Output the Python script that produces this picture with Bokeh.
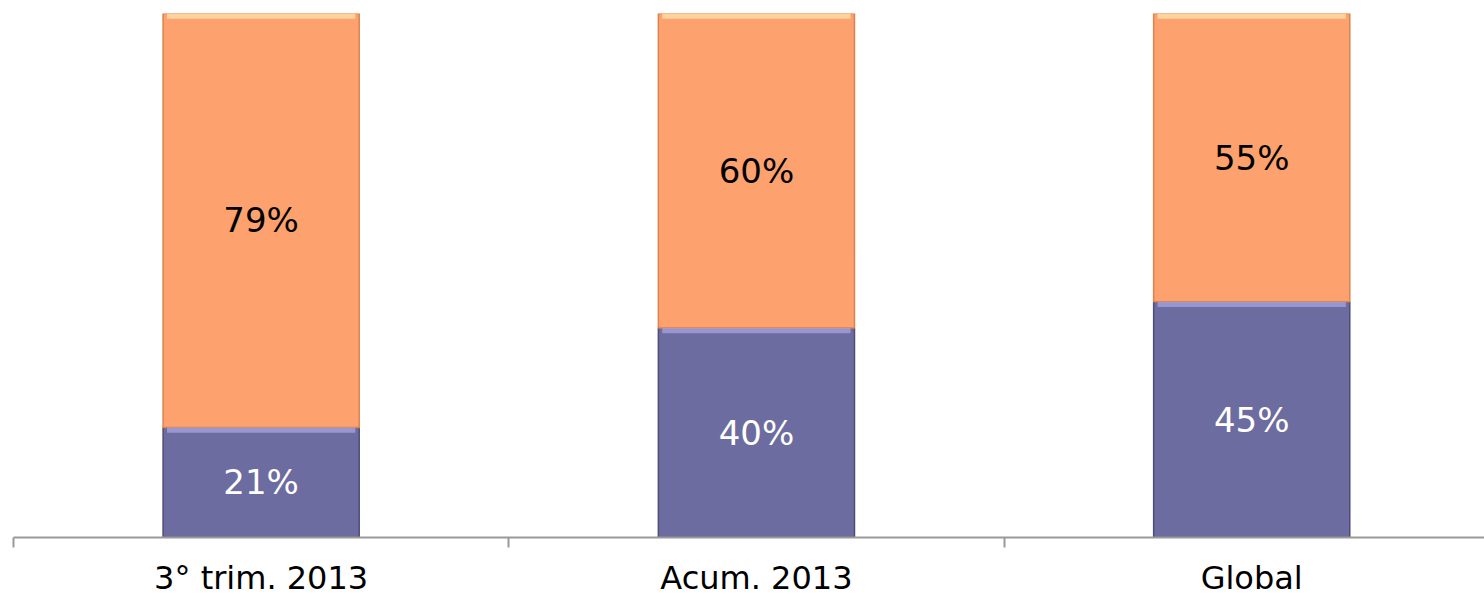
from bokeh.plotting import figure
from bokeh.models import ColumnDataSource, Range1d, FixedTicker, LabelSet
from bokeh.embed import file_html
from bokeh.resources import INLINE
from bokeh.core.properties import value

categories = ["3° trim. 2013", "Acum. 2013", "Global"]
serie_inferior = [21, 40, 45]
serie_superior = [79, 60, 55]

x = [i + 0.5 for i in range(len(categories))]
low_top = [v / 100 for v in serie_inferior]
up_top = [(a + b) / 100 for a, b in zip(serie_inferior, serie_superior)]

src = ColumnDataSource(dict(
    x=x,
    low_bottom=[0] * len(x),
    low_top=low_top,
    low_mid=[t / 2 for t in low_top],
    low_txt=[f"{v}%" for v in serie_inferior],
    up_top=up_top,
    up_mid=[(a + b) / 2 for a, b in zip(low_top, up_top)],
    up_txt=[f"{v}%" for v in serie_superior],
    low_hl=[t - 0.01 for t in low_top],
    up_hl=[t - 0.01 for t in up_top],
))

p = figure(frame_width=1471, frame_height=524, output_backend="svg", toolbar_location=None,
           x_range=Range1d(0, 2.97), y_range=Range1d(0, 1.0),
           min_border_left=13, min_border_right=0, min_border_top=13, min_border_bottom=0)
p.outline_line_color = None
p.xgrid.visible = False
p.ygrid.visible = False
p.yaxis.visible = False
p.background_fill_color = "white"

W = 0.396
p.vbar(x="x", bottom="low_bottom", top="low_top", width=W, source=src,
       fill_color="#6d6ca0", line_color="#4e4d78", line_width=1.5)
p.vbar(x="x", bottom="low_top", top="up_top", width=W, source=src,
       fill_color="#fda26e", line_color="#d9834f", line_width=1.5)
# bevel highlights
p.vbar(x="x", bottom="low_hl", top="low_top", width=W * 0.96, source=src,
       fill_color="#a9a8e6", line_color=None, fill_alpha=0.7)
p.vbar(x="x", bottom="up_hl", top="up_top", width=W * 0.96, source=src,
       fill_color="#ffe0a8", line_color=None, fill_alpha=0.8)

p.add_layout(LabelSet(x="x", y="low_mid", text="low_txt", source=src,
                      text_align="center", text_baseline="middle",
                      text_color="white", text_font_size="34px",
                      text_font=value("DejaVu Sans")))
p.add_layout(LabelSet(x="x", y="up_mid", text="up_txt", source=src,
                      text_align="center", text_baseline="middle",
                      text_color="black", text_font_size="34px",
                      text_font=value("DejaVu Sans")))

ax = p.xaxis[0]
ax.ticker = FixedTicker(ticks=x, minor_ticks=list(range(len(categories) + 1)))
ax.major_label_overrides = {xx: c for xx, c in zip(x, categories)}
ax.major_tick_line_color = None
ax.major_tick_out = 0
ax.major_tick_in = 0
ax.minor_tick_out = 10
ax.minor_tick_in = 0
ax.minor_tick_line_color = "#9a9a9a"
ax.minor_tick_line_width = 2
ax.axis_line_color = "#9a9a9a"
ax.axis_line_width = 2
ax.major_label_text_font = "DejaVu Sans"
ax.major_label_text_font_size = "32px"
ax.major_label_text_color = "black"
ax.major_label_standoff = 11

open("out.html", "w").write(file_html(p, INLINE))
